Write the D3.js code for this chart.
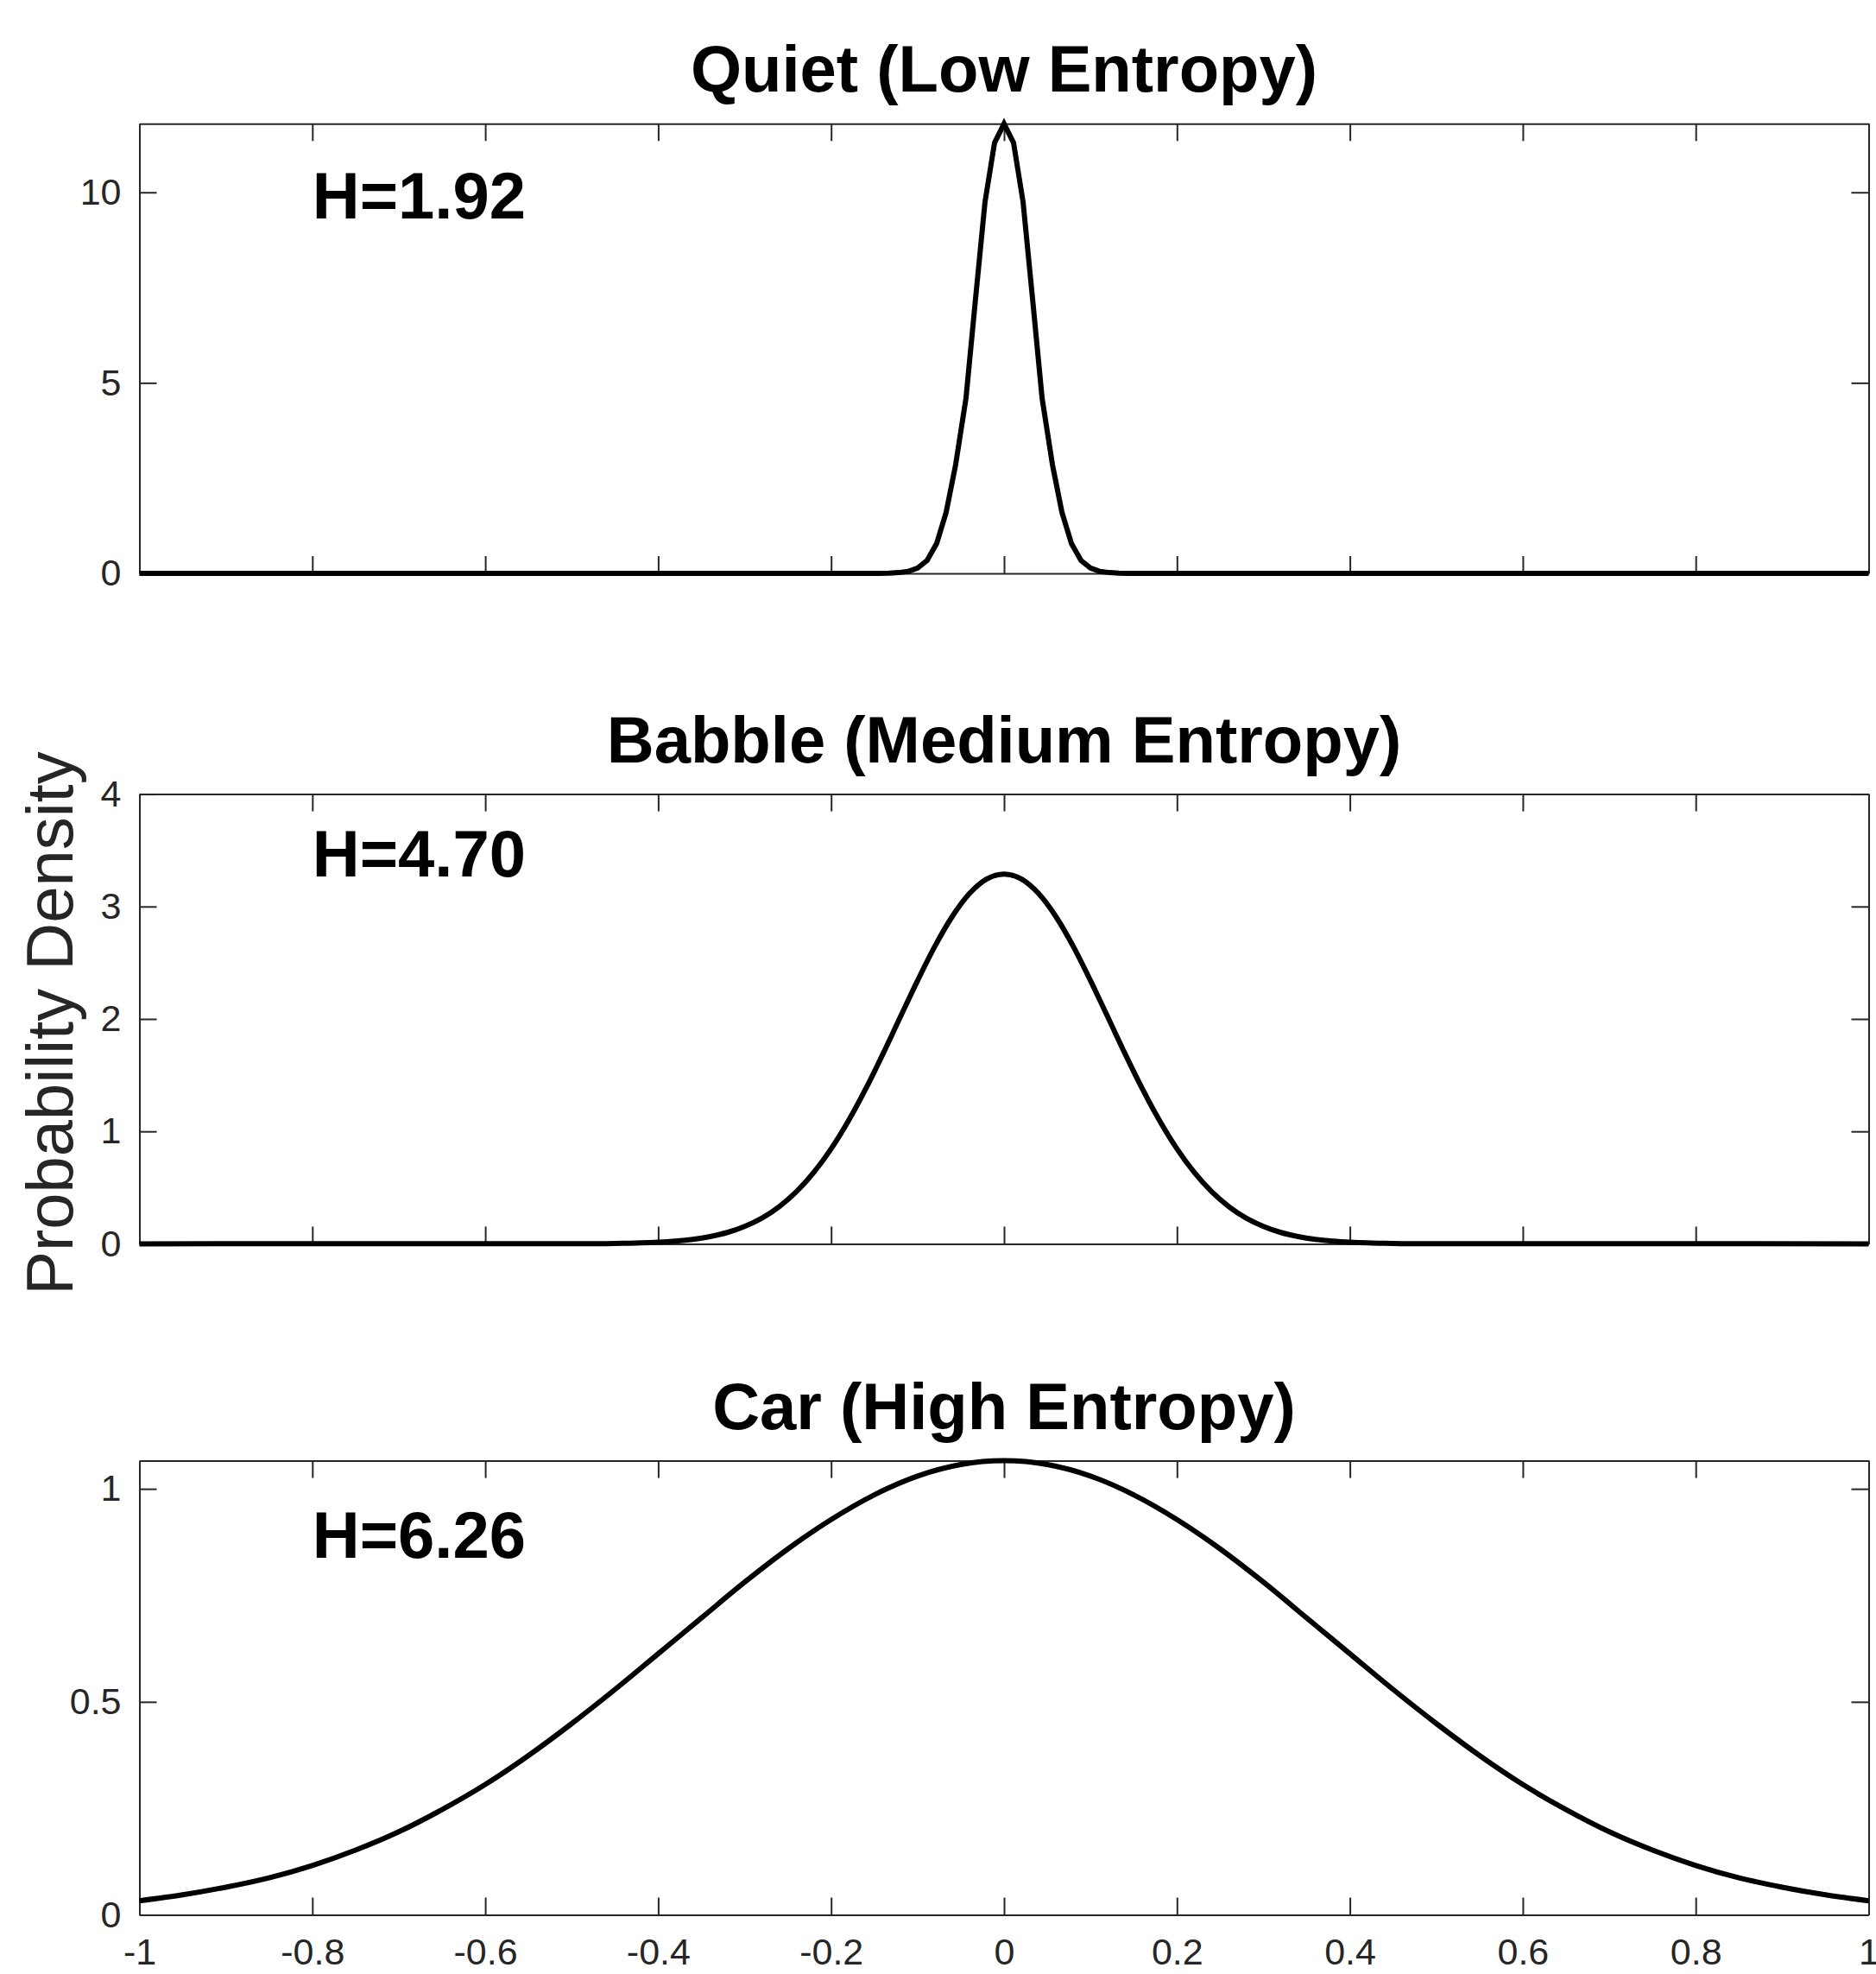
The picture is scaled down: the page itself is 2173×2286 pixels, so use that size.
<!DOCTYPE html>
<html>
<head>
<meta charset="utf-8">
<script src="https://cdn.jsdelivr.net/npm/d3@7"></script>
<style>
  body { margin: 0; background: #fff; }
  svg { display: block; }
</style>
</head>
<body>
<script>
// three noise types, x = sample amplitude
var panelTitles = ["Quiet (Low Entropy)", "Babble (Medium Entropy)", "Car (High Entropy)"];
var entropyLabels = ["H=1.92", "H=4.70", "H=6.26"];
var labelX = -0.8;
var labelY = [10, 3.5, 0.9];

var xTicks = [-1, -0.8, -0.6, -0.4, -0.2, 0, 0.2, 0.4, 0.6, 0.8, 1];
var xTickLabels = ["-1", "-0.8", "-0.6", "-0.4", "-0.2", "0", "0.2", "0.4", "0.6", "0.8", "1"];

var yMax = [11.8, 4, 1.066];
var yTicks = [[0, 5, 10], [0, 1, 2, 3, 4], [0, 0.5, 1]];
var yTickLabels = [["0", "5", "10"], ["0", "1", "2", "3", "4"], ["0", "0.5", "1"]];

// quiet: narrow spike
var quietX = [-1, -0.144, -0.133, -0.122, -0.111, -0.1, -0.089, -0.078, -0.067, -0.056, -0.044, -0.033, -0.022, -0.011,
              0, 0.011, 0.022, 0.033, 0.044, 0.056, 0.067, 0.078, 0.089, 0.1, 0.111, 0.122, 0.133, 0.144, 1];
var quietY = [0, 0, 0.005, 0.02, 0.05, 0.14, 0.34, 0.78, 1.6, 2.85, 4.6, 7.2, 9.75, 11.3,
              11.8, 11.3, 9.75, 7.2, 4.6, 2.85, 1.6, 0.78, 0.34, 0.14, 0.05, 0.02, 0.005, 0, 0];

// babble: medium bump
var babbleX = [-1, -0.5, -0.48, -0.46, -0.44, -0.42, -0.4, -0.38, -0.36, -0.34, -0.32, -0.3, -0.28, -0.26, -0.24, -0.22,
               -0.2, -0.18, -0.16, -0.14, -0.12, -0.1, -0.08, -0.06, -0.04, -0.02, 0,
               0.02, 0.04, 0.06, 0.08, 0.1, 0.12, 0.14, 0.16, 0.18, 0.2, 0.22, 0.24, 0.26, 0.28, 0.3,
               0.32, 0.34, 0.36, 0.38, 0.4, 0.42, 0.44, 0.46, 0.48, 0.5, 1];
var babbleY = [0, 0.001, 0.001, 0.002, 0.005, 0.008, 0.014, 0.024, 0.04, 0.065, 0.101, 0.155, 0.229, 0.331, 0.464, 0.635,
               0.845, 1.094, 1.378, 1.69, 2.017, 2.341, 2.646, 2.91, 3.115, 3.245, 3.289,
               3.245, 3.115, 2.91, 2.646, 2.341, 2.017, 1.69, 1.378, 1.094, 0.845, 0.635, 0.464, 0.331, 0.229, 0.155,
               0.101, 0.065, 0.04, 0.024, 0.014, 0.008, 0.005, 0.002, 0.001, 0.001, 0];

// car: wide bump
var carX = [-1, -0.95, -0.9, -0.85, -0.8, -0.75, -0.7, -0.65, -0.6, -0.55, -0.5, -0.45, -0.4, -0.35, -0.3, -0.25, -0.2,
            -0.15, -0.1, -0.05, 0, 0.05, 0.1, 0.15, 0.2, 0.25, 0.3, 0.35, 0.4, 0.45, 0.5, 0.55, 0.6, 0.65, 0.7,
            0.75, 0.8, 0.85, 0.9, 0.95, 1];
var carY = [0.033, 0.047, 0.065, 0.087, 0.116, 0.152, 0.195, 0.247, 0.306, 0.374, 0.449, 0.529, 0.613, 0.697, 0.781, 0.859, 0.928,
            0.986, 1.03, 1.057, 1.066, 1.057, 1.03, 0.986, 0.928, 0.859, 0.781, 0.697, 0.613, 0.529, 0.449, 0.374, 0.306, 0.247, 0.195,
            0.152, 0.116, 0.087, 0.065, 0.047, 0.033];

var seriesX = [quietX, babbleX, carX];
var seriesY = [quietY, babbleY, carY];

var width = 2173, height = 2286;
var left = 161.5, right = 2164.5;
var panelTop = [143.3, 919.6, 1691.6];
var panelBottom = [664, 1440.4, 2217.5];
var font = "'Liberation Sans', Arial, Helvetica, sans-serif";
var axisColour = "#262626";
var tickLen = 20;

var svg = d3.select("body").append("svg")
    .attr("width", width)
    .attr("height", height);

svg.append("rect").attr("width", width).attr("height", height).attr("fill", "white");

var x = d3.scaleLinear().domain([-1, 1]).range([left, right]);

function styleAxis(g) {
    g.selectAll(".domain").attr("stroke", axisColour).attr("stroke-width", 2);
    g.selectAll(".tick line").attr("stroke", axisColour).attr("stroke-width", 2);
    g.selectAll(".tick text")
        .attr("fill", axisColour)
        .style("font-family", font)
        .style("font-size", "43px");
}

for (var p = 0; p < 3; p++) {
    var y = d3.scaleLinear().domain([0, yMax[p]]).range([panelBottom[p], panelTop[p]]);
    var panel = svg.append("g").attr("class", "panel");

    var pts = d3.zip(seriesX[p], seriesY[p]);
    var line = d3.line()
        .x(function(d) { return x(d[0]); })
        .y(function(d) { return y(d[1]); })
        .curve(p == 0 ? d3.curveLinear : d3.curveMonotoneX);

    // bottom axis (labels only on last panel)
    var bottomAxis = d3.axisBottom(x).tickValues(xTicks).tickSizeInner(-tickLen).tickSizeOuter(0).tickPadding(27)
        .tickFormat(function(d, i) { return p == 2 ? xTickLabels[i] : ""; });
    panel.append("g").attr("transform", "translate(0," + panelBottom[p] + ")").call(bottomAxis).call(styleAxis);

    var topAxis = d3.axisTop(x).tickValues(xTicks).tickSizeInner(-tickLen).tickSizeOuter(0).tickFormat("");
    panel.append("g").attr("transform", "translate(0," + panelTop[p] + ")").call(topAxis).call(styleAxis);

    var leftAxis = d3.axisLeft(y).tickValues(yTicks[p]).tickSizeInner(-tickLen).tickSizeOuter(0).tickPadding(21)
        .tickFormat(function(d, i) { return yTickLabels[p][i]; });
    panel.append("g").attr("transform", "translate(" + left + ",0)").call(leftAxis).call(styleAxis);

    var rightAxis = d3.axisRight(y).tickValues(yTicks[p]).tickSizeInner(-tickLen).tickSizeOuter(0).tickFormat("");
    panel.append("g").attr("transform", "translate(" + right + ",0)").call(rightAxis).call(styleAxis);

    panel.append("path")
        .datum(pts)
        .attr("d", line)
        .attr("fill", "none")
        .attr("stroke", "black")
        .attr("stroke-width", 6)
        .attr("stroke-linejoin", "miter");

    // title
    panel.append("text")
        .attr("x", (left + right) / 2)
        .attr("y", panelTop[p] - 37)
        .attr("text-anchor", "middle")
        .style("font-family", font)
        .style("font-weight", "bold")
        .style("font-size", "76px")
        .attr("fill", "black")
        .text(panelTitles[p]);

    // entropy value
    panel.append("text")
        .attr("x", x(labelX))
        .attr("y", y(labelY[p]))
        .attr("dy", "0.4em")
        .style("font-family", font)
        .style("font-weight", "bold")
        .style("font-size", "76px")
        .attr("fill", "black")
        .text(entropyLabels[p]);
}

// shared y label
svg.append("text")
    .attr("transform", "translate(84," + ((panelTop[1] + panelBottom[1]) / 2 + 5) + ") rotate(-90)")
    .attr("text-anchor", "middle")
    .style("font-family", font)
    .style("font-size", "76px")
    .attr("fill", axisColour)
    .text("Probability Density");
</script>
</body>
</html>
